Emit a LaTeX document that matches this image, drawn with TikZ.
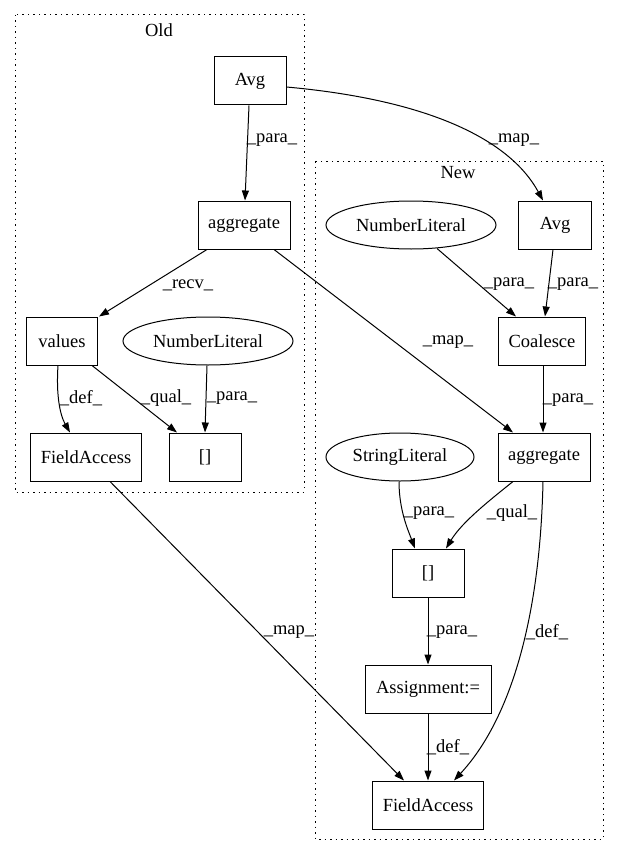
\documentclass[tikz,border=0pt]{standalone}
\usepackage{fontspec}
\setmainfont{Liberation Serif}
\usetikzlibrary{arrows.meta,shapes.geometric}
\begin{document}
\begin{tikzpicture}[x=1pt,y=-1pt,
  every node/.style={font=\fontsize{18.5}{21}\selectfont},
  box/.style={draw,rectangle,line width=1pt,minimum height=48pt,inner sep=0pt},
  ell/.style={draw,ellipse,line width=1pt,minimum height=48pt,inner sep=0pt},
  cluster/.style={draw,line width=1pt,dash pattern=on 1.5pt off 4pt},
  edge/.style={line width=1pt,-{Triangle[length=10pt,width=7pt]}},
  lbl/.style={inner sep=0pt}]
\useasboundingbox (0,0) rectangle (619,856);
% clusters
\draw[cluster] (15,15) rectangle (304,492);
\draw[cluster] (315,161) rectangle (603,839);
\node[lbl] (oldlab) at (159,30) {Old};
\node[lbl] (newlab) at (458,173) {New};
% old nodes
\node[box,minimum width=72pt] (oavg) at (250,81) {Avg};
\node[box,minimum width=92pt] (oagg) at (244,225) {aggregate};
\node[box,minimum width=71pt] (vals) at (62,341) {values};
\node[ell,minimum width=170pt] (onl) at (208,341) {NumberLiteral};
\node[box,minimum width=111pt] (ofa) at (86,457) {FieldAccess};
\node[box,minimum width=72pt] (oidx) at (205,457) {[]};
% new nodes
\node[box,minimum width=73pt] (navg) at (555,225) {Avg};
\node[ell,minimum width=170pt] (nnl) at (411,225) {NumberLiteral};
\node[box,minimum width=87pt] (coal) at (542,341) {Coalesce};
\node[box,minimum width=92pt] (nagg) at (544,457) {aggregate};
\node[ell,minimum width=148pt] (sl) at (400,457) {StringLiteral};
\node[box,minimum width=72pt] (nidx) at (428,573) {[]};
\node[box,minimum width=126pt] (asg) at (428,689) {Assignment:=};
\node[box,minimum width=111pt] (nfa) at (428,805) {FieldAccess};
% edges
\draw[edge] ([xshift=-1pt]oavg.south) -- ([xshift=1pt]oagg.north);
\node[lbl] (l1) at (272,140) {\_para\_};
\draw[edge] ([yshift=-6pt]oavg.east) .. controls (430,100) and (510,140) .. ([xshift=-12pt]navg.north);
\node[lbl] (l2) at (514,140) {\_map\_};
\draw[edge] ([xshift=-37pt]oagg.south) -- ([xshift=37pt]vals.north);
\node[lbl] (l3) at (188,285) {\_recv\_};
\draw[edge] ([xshift=30pt]oagg.south) -- ([xshift=-31pt]nagg.north);
\node[lbl] (l4) at (448,342) {\_map\_};
\draw[edge] ([xshift=-4pt]vals.south) .. controls (56,395) and (60,415) .. ([xshift=-16pt]ofa.north);
\node[lbl] (l5) at (81,398) {\_def\_};
\draw[edge] ([xshift=30pt]vals.south) -- ([xshift=-28pt]oidx.north);
\node[lbl] (l6) at (166,398) {\_qual\_};
\draw[edge] ([xshift=-1pt]onl.south) -- (oidx.north);
\node[lbl] (l7) at (232,398) {\_para\_};
\draw[edge] ([xshift=24pt]ofa.south) -- ([xshift=-24pt]nfa.north);
\node[lbl] (l8) at (289,632) {\_map\_};
\draw[edge] ([xshift=26pt,yshift=1pt]nnl.south) -- ([xshift=-26pt]coal.north);
\node[lbl] (l9) at (509,284) {\_para\_};
\draw[edge] ([xshift=-2pt]navg.south) -- ([xshift=3pt]coal.north);
\node[lbl] (l10) at (573,284) {\_para\_};
\draw[edge] ([xshift=1pt]coal.south) -- ([xshift=-1pt]nagg.north);
\node[lbl] (l11) at (568,400) {\_para\_};
\draw[edge] ([xshift=-1pt]sl.south) .. controls (399,510) and (408,530) .. ([xshift=-13pt]nidx.north);
\node[lbl] (l12) at (429,513) {\_para\_};
\draw[edge] ([xshift=-31pt]nagg.south) .. controls (490,500) and (462,522) .. ([xshift=18pt]nidx.north);
\node[lbl] (l13) at (512,513) {\_qual\_};
\draw[edge] ([xshift=-1pt]nagg.south) .. controls (540,620) and (510,720) .. ([xshift=26pt]nfa.north);
\node[lbl] (l14) at (547,632) {\_def\_};
\draw[edge] (nidx.south) -- (asg.north);
\node[lbl] (l15) at (452,632) {\_para\_};
\draw[edge] (asg.south) -- (nfa.north);
\node[lbl] (l16) at (448,747) {\_def\_};
\end{tikzpicture}
\end{document}
